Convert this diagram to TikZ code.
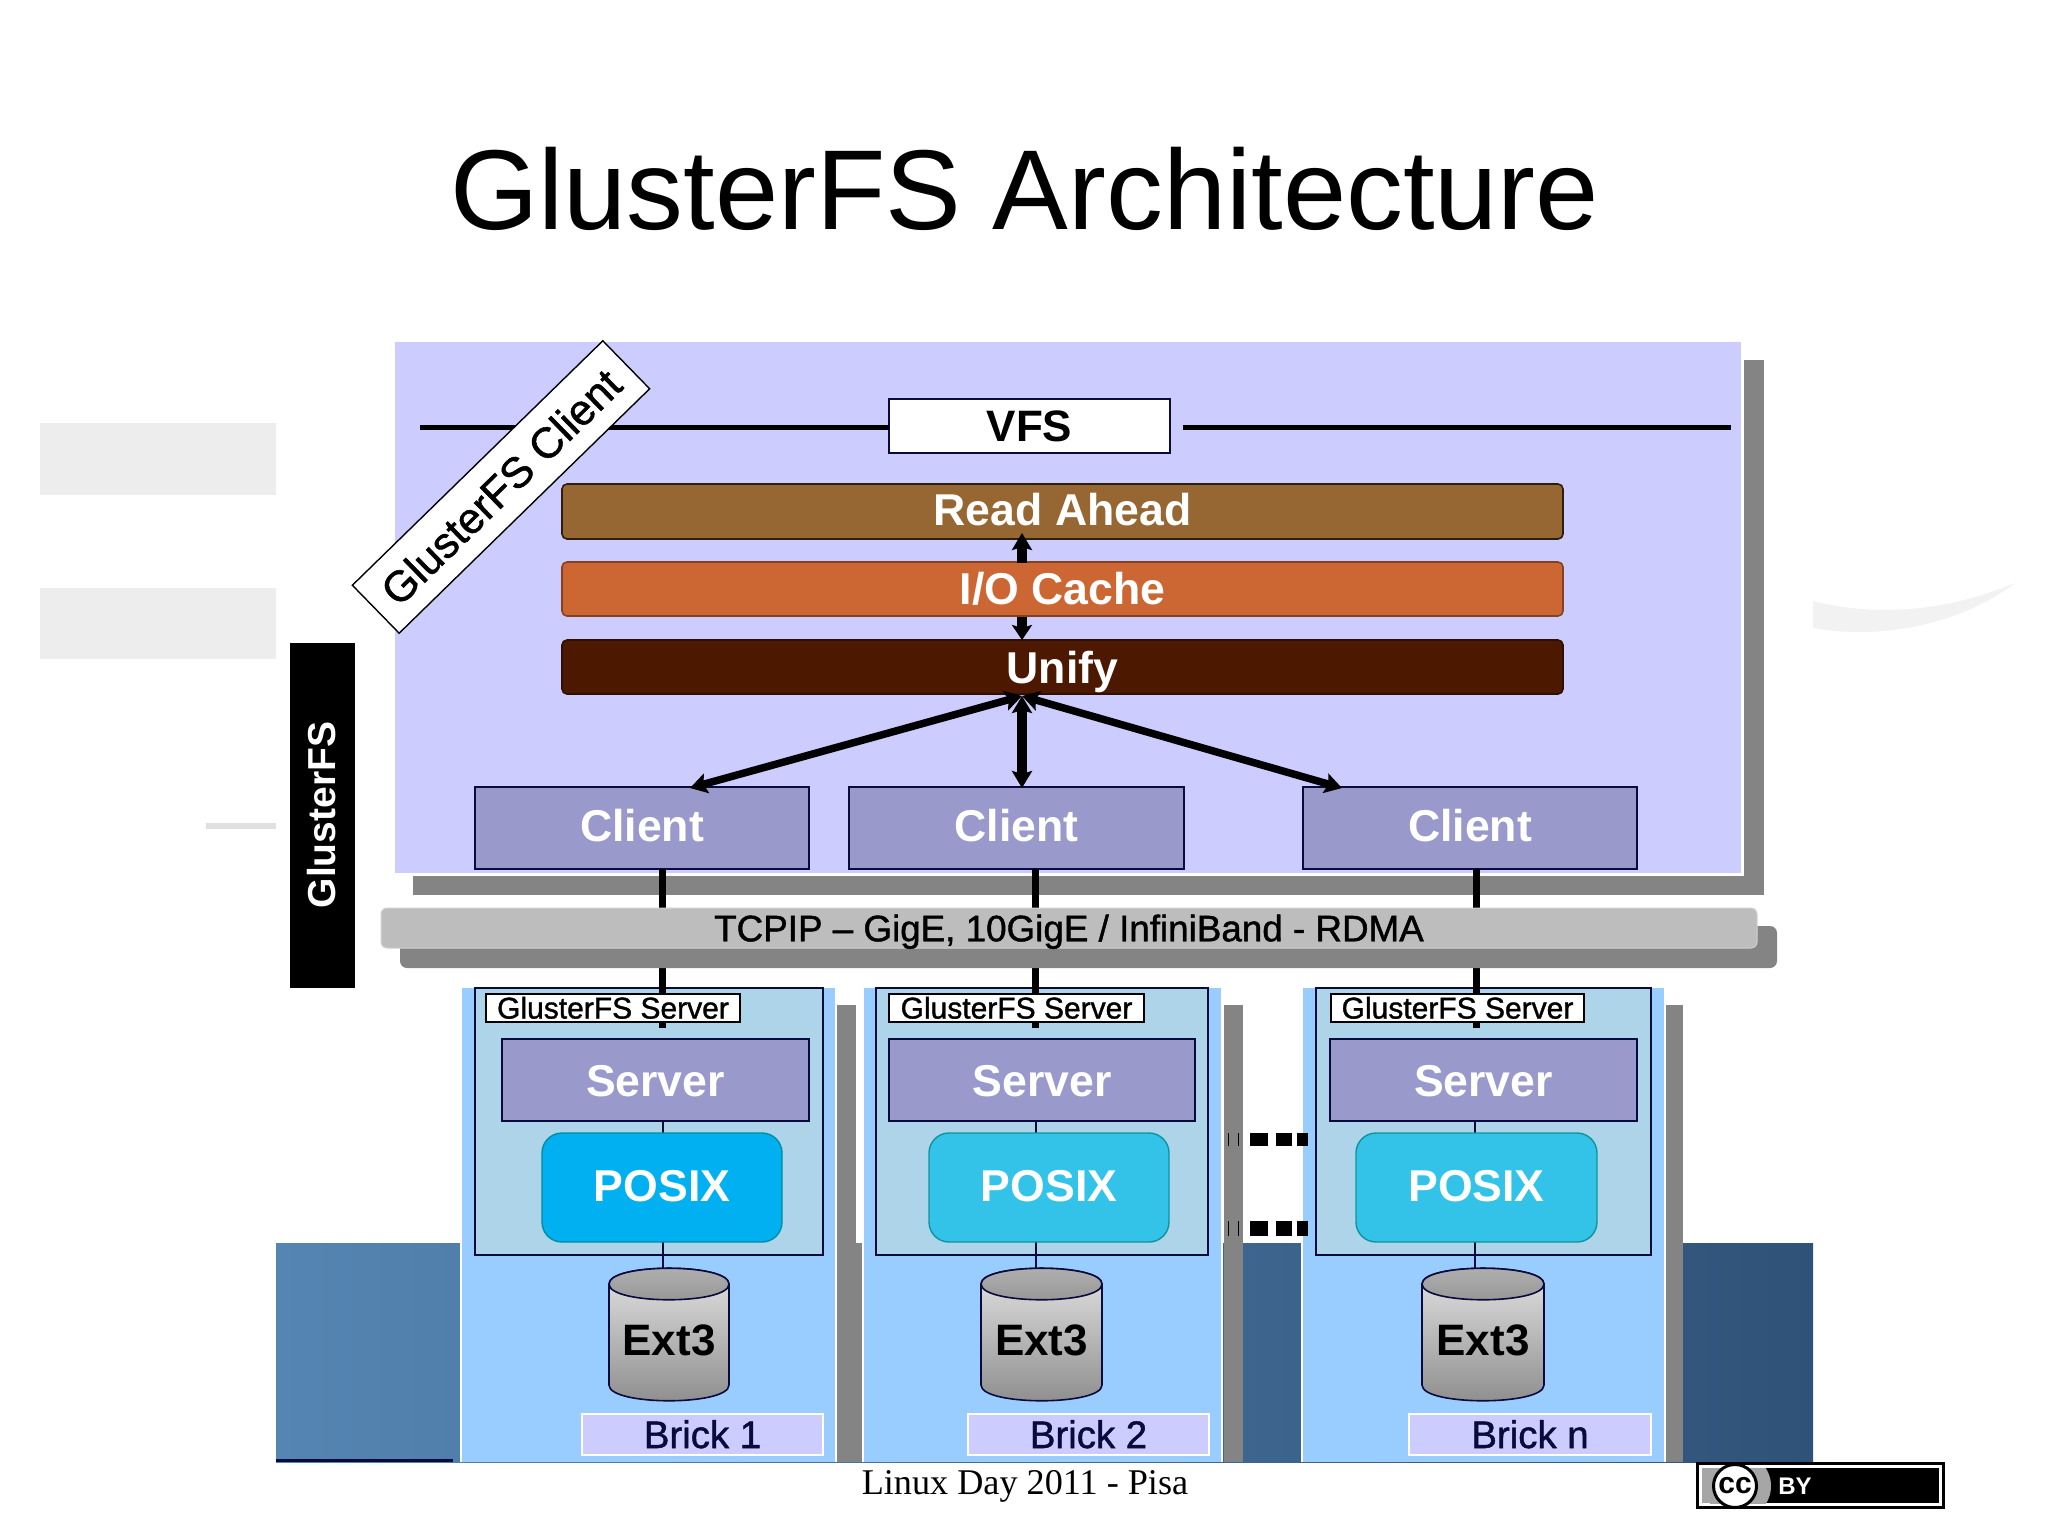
\documentclass[tikz,border=0pt]{standalone}
\usepackage{fontspec}
\setmainfont{Liberation Sans}
\newfontfamily\serifft{Liberation Serif}
\newfontfamily\semib[FakeBold=1.2]{Liberation Sans}
\usetikzlibrary{arrows.meta,shapes.geometric}
\definecolor{navy}{HTML}{0A0A3C}
\definecolor{panel}{HTML}{CCCCFF}
\definecolor{shadowg}{HTML}{848484}
\definecolor{cli}{HTML}{9999CC}
\definecolor{colb}{HTML}{99CCFF}
\definecolor{inb}{HTML}{ADD4E8}
\definecolor{posA}{HTML}{00B0F0}
\definecolor{posB}{HTML}{33C3E8}
\definecolor{ra}{HTML}{966633}
\definecolor{io}{HTML}{CC6633}
\definecolor{un}{HTML}{4C1900}
\definecolor{bgL}{HTML}{5585B2}
\definecolor{bgR}{HTML}{2F5278}
\newcommand{\fs}[1]{\fontsize{#1}{#1}\selectfont}
\newcommand{\bx}[7]{\pgfmathsetmacro\bw{#5-#3}\pgfmathsetmacro\bh{#6-#4}\node[#1,minimum width=\bw pt,minimum height=\bh pt,anchor=north west,inner sep=0pt,outer sep=0pt] (#2) at (#3,#4) {#7};}
\tikzset{
  bigtext/.style={text=white,font=\bfseries\fs{44.6},text height=32pt,text depth=0pt},
  clientbox/.style={fill=cli,draw=navy,line width=1.6pt,bigtext},
  barbox/.style={rounded corners=5pt,line width=1.6pt,bigtext},
  bighead/.style={{Stealth[length=17pt,width=20pt,inset=3pt]}-{Stealth[length=17pt,width=20pt,inset=3pt]}},
  diagarrow/.style={line width=7.5pt,bighead},
  wire/.style={line width=7pt,draw=black},
  thinwire/.style={line width=1.4pt,draw=navy},
  labelbox/.style={fill=white,draw=black,line width=2pt,text=black,font=\semib\fs{30},text height=21pt,text depth=0pt},
  brickbox/.style={fill=panel,draw=white,line width=2pt,text=navy,font=\semib\fs{38.4},text height=27pt,text depth=0pt},
  posbox/.style={line width=1.4pt,rounded corners=20pt,bigtext,text height=28pt},
  deco/.style={fill=black!7,draw=none},
  dotblock/.style={fill=black,draw=none},
}
\begin{document}
\begin{tikzpicture}[x=1pt,y=-1pt]
\useasboundingbox (0,0) rectangle (2048,1535);
\fill[white] (0,0) rectangle (2048,1535);
% faint decorations
\fill[deco] (40,423) rectangle (276,495);
\fill[deco] (40,588) rectangle (276,659);
\fill[black!12] (206,823) rectangle (276,829);
\fill[black!5] (1813,601) .. controls (1880,618) and (1950,610) .. (2015,583) .. controls (1960,625) and (1880,640) .. (1813,628) -- cycle;
% title and footer
\node[font=\fs{113.6},text=black,inner sep=0pt] (title) at (1024.5,189) {GlusterFS Architecture};
\node[font=\serifft\fs{36.2},text=black,inner sep=0pt] (foot) at (1025,1486) {Linux Day 2011 - Pisa};
% blue background
\shade[left color=bgL,right color=bgR,shading=axis] (276,1243) rectangle (1813,1462);
\fill[navy] (276,1459) rectangle (453,1462);
% client panel
\fill[shadowg] (413,360) rectangle (1764,895);
\fill[white] (392,340) rectangle (1744,876);
\bx{fill=panel}{panel}{395}{342}{1741}{873}{}
% VFS line
\bx{fill=white,draw=navy,line width=1.4pt,font=\bfseries\fs{44},text=black,text height=30pt,text depth=0pt}{vfs}{889}{399}{1170}{453}{VFS}
\coordinate (vl) at (420,427.5);
\coordinate (vr) at (1731,427.5);
\coordinate (vm) at (1183,427.5);
\draw[line width=4.5pt,draw=black] (vl) -- (vl -| vfs.west);
\draw[line width=4.5pt,draw=black] (vm) -- (vr);
% diagonal label
\node[fill=white,draw=black,line width=1.4pt,rotate=44.3,minimum width=350pt,minimum height=67pt,inner sep=0pt,font=\semib\fs{43},text=black] (diag) at (501,487) {GlusterFS Client};
% bars
\bx{barbox,fill=ra,draw=black!70!ra,text height=27pt}{read}{562}{484}{1563}{539}{Read Ahead}
\bx{barbox,fill=io,draw=black!35!io,text height=30pt}{cache}{562}{562}{1563}{616}{I/O Cache}
\bx{barbox,fill=un,draw=black!40!un}{unify}{562}{640}{1563}{694}{Unify}
% clients
\bx{clientbox,text height=27pt}{c1}{475}{787}{809}{869}{Client}
\bx{clientbox,text height=27pt}{c2}{849}{787}{1184}{869}{Client}
\bx{clientbox,text height=27pt}{c3}{1303}{787}{1637}{869}{Client}
% arrows
\coordinate (ra1) at (1022,533); \coordinate (ca1) at (1022,563);
\coordinate (ca2) at (1022,617); \coordinate (un1) at (1022,640);
\coordinate (un2) at (1022,696);
\coordinate (ct1) at (690,788); \coordinate (ct2) at (1022,788); \coordinate (ct3) at (1342,788);
\draw[line width=10pt,-{Stealth[length=17pt,width=20pt,inset=3pt]}] (ca1) -- (ra1);
\draw[line width=10pt,-{Stealth[length=15pt,width=20pt,inset=3pt]}] (ca2) -- (un1);
\draw[diagarrow] (un2) -- (ct1);
\draw[diagarrow,line width=10pt] (un2) -- (ct2);
\draw[diagarrow] (un2) -- (ct3);
% server columns
\foreach \i/\cL/\cR/\gL/\gR/\gBot/\nL/\nR/\lL/\lR/\sL/\sR/\pL/\pR/\pc/\yL/\yR/\bL/\bR/\wx/\lx/\bn in {
 1/462/835/837/856/862/475/823/486/740/502/809/542/782/posA/609/729/582/823/662/663/Brick 1,
 2/864/1221/1224/1243/1243/876/1208/889/1144/889/1195/929/1169/posB/981/1102/968/1209/1035/1036/Brick 2,
 3/1303/1664/1665/1683/1683/1316/1651/1331/1584/1330/1637/1356/1597/posB/1422/1544/1409/1651/1476/1475/Brick n}{
  \fill[shadowg] (\gL,1005) rectangle (\gR,1462);
  \fill[shadowg] (\gL,1243) rectangle (\gBot,1462);
  \fill[white] (\cL-2,986) rectangle (\cR+2,1462);
  \bx{fill=colb}{col\i}{\cL}{988}{\cR}{1462}{}
  \bx{fill=inb,draw=navy,line width=1.6pt}{inner\i}{\nL}{988}{\nR}{1255}{}
  \coordinate (wt\i) at (\wx,869);
  \coordinate (wb\i) at (\wx,1028);
  \draw[wire] (wt\i) -- (wb\i);
  \bx{labelbox}{lab\i}{\lL}{994}{\lR}{1022}{GlusterFS Server}
  \bx{clientbox}{srv\i}{\sL}{1039}{\sR}{1121}{Server}
  \coordinate (ln\i) at (\lx,1121);
  \coordinate (lm\i) at (\lx,1270);
  \draw[thinwire] (ln\i) -- (lm\i);
  \bx{posbox,fill=\pc,draw=teal!70!\pc}{pos\i}{\pL}{1133}{\pR}{1242}{POSIX}
  % cylinder
  \pgfmathsetmacro\ymid{(\yL+\yR)/2}
  \shade[top color=black!10,bottom color=black!45,draw=navy,line width=1.6pt]
     (\yL,1284) -- (\yL,1385) .. controls (\yL,1406) and (\yR,1406) .. (\yR,1385) -- (\yR,1284)
     .. controls (\yR,1263) and (\yL,1263) .. (\yL,1284) -- cycle;
  \shade[top color=black!30,middle color=black!17,bottom color=black!42,draw=navy,line width=1.6pt]
     (\yL,1284) .. controls (\yL,1263) and (\yR,1263) .. (\yR,1284)
     .. controls (\yR,1305) and (\yL,1305) .. (\yL,1284) -- cycle;
  \node[font=\bfseries\fs{44},text=black,inner sep=0pt] (ext\i) at (\ymid,1340) {Ext3};
  \bx{brickbox}{brick\i}{\bL}{1414}{\bR}{1455}{\bn}
}
% network bar
\fill[shadowg,rounded corners=7pt] (400,926) rectangle (1777,968);
\bx{fill=black!26,draw=black!18,line width=1pt,rounded corners=6pt,text=black,font=\semib\fs{36.8},text height=26.5pt,text depth=0pt}{tcp}{381}{908}{1757}{948}{TCPIP – GigE, 10GigE / InfiniBand - RDMA}
% GlusterFS side bar
\bx{fill=black}{side}{290}{643}{355}{988}{}
\node[rotate=90,font=\bfseries\fs{39},text=white,inner sep=0pt] (sidet) at (322,815) {GlusterFS};
% dotted rows
\foreach \yy/\yh in {1133/1146,1221/1236}{
  \fill (1228,\yy) rectangle (1229,\yh);
  \fill (1238,\yy) rectangle (1239,\yh);
  \fill[dotblock] (1250,\yy) rectangle (1268,\yh);
  \fill[dotblock] (1276,\yy) rectangle (1292,\yh);
  \fill[dotblock] (1297,\yy) rectangle (1308,\yh);
}
% cc badge
\fill[black] (1696,1462) rectangle (1945,1509);
\fill[white] (1699,1465) rectangle (1942,1506);
\fill[black] (1702,1468) rectangle (1939,1503);
\begin{scope}
\clip (1702,1468) rectangle (1939,1503);
\fill[black!35] (1702,1468) rectangle (1745,1503);
\fill[black!35] (1738,1486) circle (33pt);
\end{scope}
\node[circle,fill=white,draw=black,line width=3pt,minimum size=43pt,inner sep=0pt,font=\bfseries\fs{30},text=black] (cc) at (1735,1486) {cc};
\node[font=\bfseries\fs{24},text=white,inner sep=0pt] (by) at (1795,1486) {BY};
\end{tikzpicture}
\end{document}
